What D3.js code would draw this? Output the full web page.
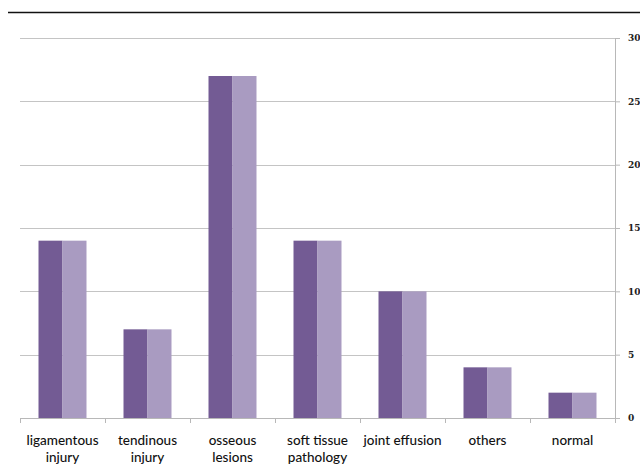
<!DOCTYPE html>
<html><head><meta charset="utf-8">
<script src="https://cdn.jsdelivr.net/npm/d3@7"></script>
<style>body{margin:0;background:#fff}svg{display:block}</style>
</head><body>
<svg id="c" width="640" height="465"></svg>
<script>
const categories = [["ligamentous","injury"],["tendinous","injury"],["osseous","lesions"],["soft tissue","pathology"],["joint effusion"],["others"],["normal"]];
const seriesA = [14,7,27,14,10,4,2];
const seriesB = [14,7,27,14,10,4,2];
const yTicks = [0,5,10,15,20,25,30];
const colors = ["#735b94","#a99bc1"];

const svg = d3.select("#c");
const L=20,R=615,T=38,B=418;
const x = d3.scaleBand().domain(d3.range(categories.length)).range([L,R]).paddingInner(0).paddingOuter(0);
const x1 = d3.scaleBand().domain([0,1]).range([0,x.bandwidth()]).paddingOuter(0.771).paddingInner(0);
const y = d3.scaleLinear().domain([0,30]).range([B,T]);

svg.append("line").attr("x1",8).attr("x2",640).attr("y1",12.5).attr("y2",12.5).attr("stroke","#111").attr("stroke-width",1.5);

// gridlines
svg.append("g").selectAll("line").data(yTicks.filter(d=>d>0)).join("line")
  .attr("x1",L).attr("x2",R).attr("y1",d=>Math.round(y(d))+0.5).attr("y2",d=>Math.round(y(d))+0.5)
  .attr("stroke","#c4c4c4").attr("stroke-width",1.2);

// bars
const data = categories.map((c,i)=>[seriesA[i],seriesB[i]]);
const g = svg.append("g");
data.forEach((vals,i)=>{
  vals.forEach((v,j)=>{
    g.append("rect").attr("x",x(i)+x1(j)).attr("width",x1.bandwidth())
      .attr("y",y(v)).attr("height",B-y(v)).attr("fill",colors[j]);
  });
});

// right axis
const ay = svg.append("g").attr("transform",`translate(${R},0)`)
  .call(d3.axisRight(y).tickValues(yTicks).tickSize(5).tickPadding(8));
ay.select(".domain").attr("stroke","#b8b8b8");
ay.selectAll(".tick line").attr("stroke","#b8b8b8");
ay.selectAll(".tick text").attr("font-family","DejaVu Serif").attr("font-weight","bold").attr("font-size",9).attr("fill","#222");

// bottom axis
const ax = svg.append("g").attr("transform",`translate(0,${B})`);
ax.append("line").attr("x1",L).attr("x2",R).attr("y1",0.5).attr("y2",0.5).attr("stroke","#b8b8b8");
ax.selectAll("line.t").data(d3.range(categories.length+1)).join("line").attr("class","t")
  .attr("x1",i=>(i<categories.length?x(i):R)+0.5).attr("x2",i=>(i<categories.length?x(i):R)+0.5)
  .attr("y1",0).attr("y2",5).attr("stroke","#b8b8b8");

const lab = svg.append("g").selectAll("text").data(categories).join("text")
  .attr("x",(d,i)=>x(i)+x.bandwidth()/2).attr("y",445)
  .attr("text-anchor","middle").attr("font-family","Lato").attr("font-size",13.5).attr("font-weight",500).attr("fill","#111");
lab.selectAll("tspan").data(d=>d).join("tspan")
  .attr("x",function(){return this.parentNode.getAttribute("x");})
  .attr("dy",(d,k)=>k===0?0:17).text(d=>d);
</script>
</body></html>
